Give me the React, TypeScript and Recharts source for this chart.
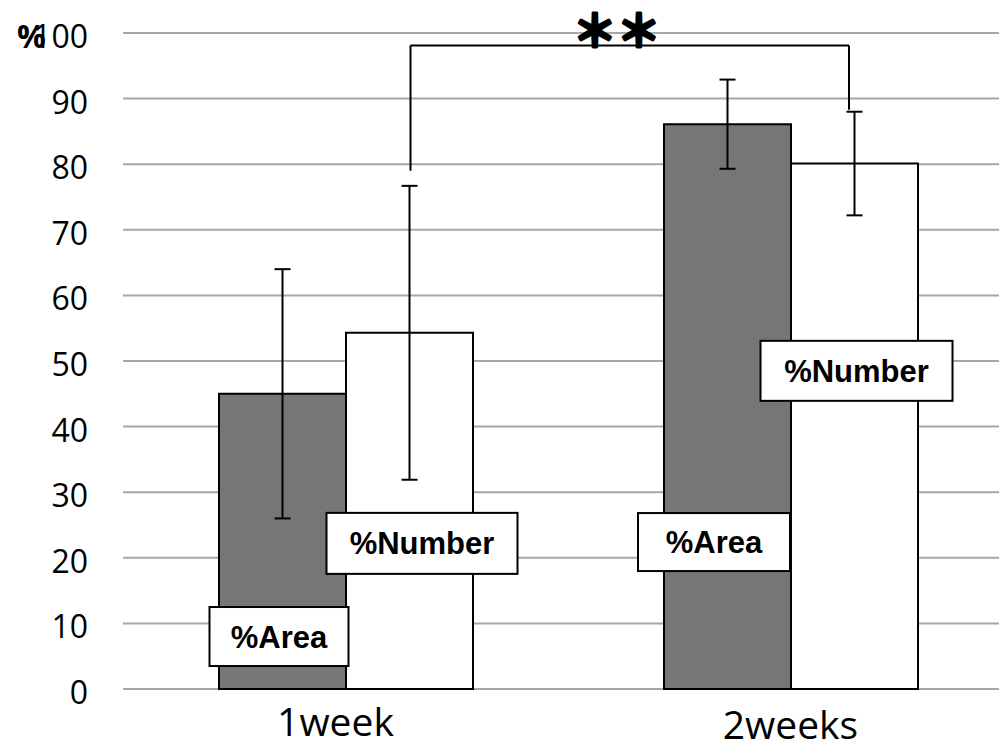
import React from "react";
import {
  Bar,
  BarChart,
  CartesianGrid,
  ErrorBar,
  LabelList,
  ReferenceLine,
  XAxis,
  YAxis,
} from "recharts";

const categories = ["1week", "2weeks"];
const areaValues = [45, 86.1];
const areaErrors = [19, 6.8];
const numberValues = [54.3, 80.1];
const numberErrors = [22.4, 7.9];
const yTicks = [0, 10, 20, 30, 40, 50, 60, 70, 80, 90, 100];
const seriesNames = ["%Area", "%Number"];

// significance bracket (y in axis units)
const bracketTop = 98.1;
const bracketLeftBottom = 79.0;
const bracketRightBottom = 88.3;
const bracketText = "＊＊";

const data = categories.map((name, i) => ({
  name,
  area: areaValues[i],
  areaErr: areaErrors[i],
  number: numberValues[i],
  numberErr: numberErrors[i],
}));

// label box placement: dx from bar centre (px), cy = centre in axis units
const areaBoxes = [
  { dx: -3.5, cy: 8.0, w: 139, h: 59 },
  { dx: -13.5, cy: 22.4, w: 152, h: 58 },
];
const numberBoxes = [
  { dx: 12.5, cy: 22.2, w: 191, h: 61 },
  { dx: 2, cy: 48.5, w: 192, h: 60 },
];

const BAR = 127;
const LEFT_DX = 65;
const RIGHT_DX = 58.5;

function boxLabel(text: string, boxes: typeof areaBoxes, values: number[]) {
  return (props: any) => {
    const { x, y, width, height, index } = props;
    const b = boxes[index];
    const v = values[index];
    const ppu = Number(height) / v;
    const cx = Number(x) + Number(width) / 2 + b.dx;
    const cy = Number(y) + Number(height) - b.cy * ppu;
    return (
      <g>
        <rect
          x={cx - b.w / 2}
          y={cy - b.h / 2}
          width={b.w}
          height={b.h}
          fill="#fff"
          stroke="#000"
          strokeWidth={2}
        />
        <text
          x={cx}
          y={cy + 11}
          textAnchor="middle"
          fontFamily="'Liberation Sans', Arial, sans-serif"
          fontWeight="bold"
          fontSize={31}
          fill="#000"
        >
          {text}
        </text>
      </g>
    );
  };
}

function segShape(dx1: number, dx2: number, withText?: boolean) {
  return (p: any) => {
    const x1 = p.x1 + dx1;
    const x2 = p.x2 + dx2;
    return (
      <g>
        <line x1={x1} y1={p.y1} x2={x2} y2={p.y2} stroke="#000" strokeWidth={2} />
        {withText && (
          <text
            x={(x1 + x2) / 2 - 13}
            y={p.y1 + 2}
            textAnchor="middle"
            fontFamily="'Noto Sans CJK JP', sans-serif"
            fontWeight="bold"
            fontSize={44}
            fill="#000"
            stroke="#000"
            strokeWidth={3}
            strokeLinejoin="round"
          >
            {bracketText}
          </text>
        )}
      </g>
    );
  };
}

const YTick = (props: any) => {
  const { x, y, payload } = props;
  return (
    <text
      x={x}
      y={y + 15}
      textAnchor="end"
      fontFamily="'Open Sans', sans-serif"
      fontSize={32}
      fill="#000"
    >
      {payload.value}
    </text>
  );
};

const XTick = (props: any) => {
  const { x, y, payload, index } = props;
  return (
    <text
      x={x - (index === 0 ? 10 : 0)}
      y={y + 45 + (index === 0 ? 0 : 3)}
      textAnchor="middle"
      fontFamily="'Open Sans', sans-serif"
      fontSize={39}
      fill="#000"
    >
      {payload.value}
    </text>
  );
};

export default function App() {
  return (
    <div style={{ width: 999, height: 744, overflow: "hidden", background: "#fff" }}>
      <style>{"body{margin:0;overflow:hidden}"}</style>
      <BarChart
        width={1013}
        height={744}
        data={data}
        margin={{ top: 33, right: 0, bottom: 0, left: 0 }}
        barGap={0}
        barSize={BAR}
      >
        <CartesianGrid vertical={false} stroke="#a6a6a6" strokeWidth={2} />
        <XAxis
          dataKey="name"
          height={55}
          axisLine={false}
          tickLine={false}
          tickSize={0}
          tick={<XTick />}
        />
        <YAxis
          width={123}
          domain={[0, 100]}
          ticks={yTicks}
          interval={0}
          axisLine={false}
          tickLine={false}
          tickSize={0}
          tickMargin={35}
          tick={<YTick />}
          label={(lp: any) => (
            <text
              x={17}
              y={(lp.viewBox?.y ?? 33) + 15}
              fontFamily="'Open Sans', sans-serif"
              fontWeight="bold"
              fontSize={32}
              fill="#000"
            >
              %
            </text>
          )}
        />
        <Bar
          dataKey="area"
          fill="#767676"
          stroke="#000"
          strokeWidth={2}
          isAnimationActive={false}
        >
          <ErrorBar dataKey="areaErr" width={8} strokeWidth={2} stroke="#000" direction="y" />
          <LabelList dataKey="area" content={boxLabel(seriesNames[0], areaBoxes, areaValues)} />
        </Bar>
        <Bar
          dataKey="number"
          fill="#ffffff"
          stroke="#000"
          strokeWidth={2}
          isAnimationActive={false}
        >
          <ErrorBar dataKey="numberErr" width={8} strokeWidth={2} stroke="#000" direction="y" />
          <LabelList dataKey="number" content={boxLabel(seriesNames[1], numberBoxes, numberValues)} />
        </Bar>
        <ReferenceLine
          segment={[
            { x: categories[0], y: bracketLeftBottom },
            { x: categories[0], y: bracketTop },
          ]}
          shape={segShape(LEFT_DX, LEFT_DX)}
        />
        <ReferenceLine
          segment={[
            { x: categories[0], y: bracketTop },
            { x: categories[1], y: bracketTop },
          ]}
          shape={segShape(LEFT_DX, RIGHT_DX, true)}
        />
        <ReferenceLine
          segment={[
            { x: categories[1], y: bracketTop },
            { x: categories[1], y: bracketRightBottom },
          ]}
          shape={segShape(RIGHT_DX, RIGHT_DX)}
        />
      </BarChart>
    </div>
  );
}
